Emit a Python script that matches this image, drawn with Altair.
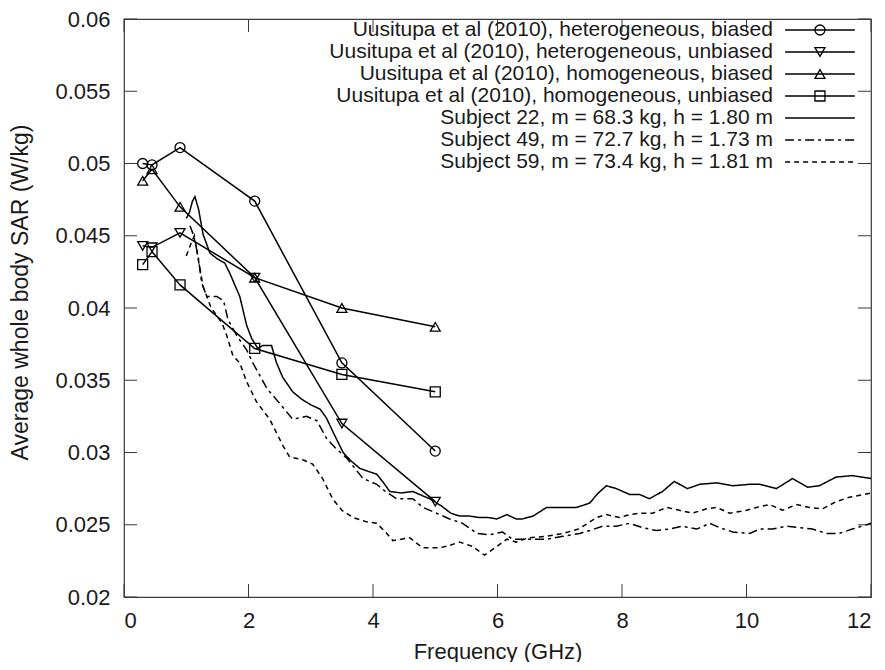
import altair as alt
import pandas as pd

FONT = "Liberation Sans"

# ---------------- data ----------------
u_names = [
    "Uusitupa et al (2010), heterogeneous, biased",
    "Uusitupa et al (2010), heterogeneous, unbiased",
    "Uusitupa et al (2010), homogeneous, biased",
    "Uusitupa et al (2010), homogeneous, unbiased",
]
s_names = [
    "Subject 22, m = 68.3 kg, h = 1.80 m",
    "Subject 49, m = 72.7 kg, h = 1.73 m",
    "Subject 59, m = 73.4 kg, h = 1.81 m",
]

freq_u = [0.3, 0.45, 0.9, 2.1, 3.5, 5.0]
het_biased = [0.0500, 0.0499, 0.0511, 0.0474, 0.0362, 0.0301]
het_unbiased = [0.0443, 0.0442, 0.0452, 0.0421, 0.0320, 0.0266]
hom_biased = [0.0488, 0.0496, 0.0470, 0.0421, 0.0400, 0.0387]
hom_unbiased = [0.0430, 0.0439, 0.0416, 0.0372, 0.0354, 0.0342]

freq_s22 = [1.0, 1.05, 1.1, 1.14, 1.2, 1.27, 1.38, 1.5, 1.62, 1.7, 1.86, 1.97, 2.05,
            2.15, 2.23, 2.37, 2.45, 2.55, 2.71, 2.85, 3.0, 3.15, 3.25, 3.36, 3.52,
            3.65, 3.79, 3.92, 4.06, 4.17, 4.27, 4.45, 4.64, 4.8, 4.91, 5.1, 5.25,
            5.39, 5.55, 5.71, 5.85, 5.99, 6.15, 6.3, 6.4, 6.57, 6.79, 7.05, 7.27,
            7.48, 7.62, 7.75, 7.91, 8.12, 8.28, 8.44, 8.65, 8.84, 9.05, 9.25, 9.52,
            9.78, 10.05, 10.21, 10.48, 10.74, 10.98, 11.17, 11.44, 11.7, 12.0]
sar_s22 = [0.0462, 0.0466, 0.0474, 0.0477, 0.0468, 0.0451, 0.0438, 0.0434, 0.0431,
           0.0424, 0.0408, 0.0388, 0.0379, 0.0372, 0.0374, 0.0374, 0.0362, 0.0352,
           0.0342, 0.0337, 0.0333, 0.0330, 0.0324, 0.0314, 0.0300, 0.0294, 0.0289,
           0.0287, 0.0285, 0.0279, 0.0273, 0.0272, 0.0273, 0.0270, 0.0268, 0.0263,
           0.0258, 0.0256, 0.0256, 0.0255, 0.0255, 0.0254, 0.0257, 0.0254, 0.0254,
           0.0256, 0.0262, 0.0262, 0.0262, 0.0265, 0.0272, 0.0277, 0.0275, 0.0271,
           0.0271, 0.0268, 0.0273, 0.0280, 0.0275, 0.0278, 0.0279, 0.0277, 0.0278,
           0.0278, 0.0275, 0.0282, 0.0276, 0.0277, 0.0283, 0.0284, 0.0282]

freq_s49 = [1.06, 1.12, 1.19, 1.25, 1.33, 1.49, 1.6, 1.67, 1.81, 1.97, 2.07, 2.3, 2.5,
            2.71, 2.93, 3.1, 3.25, 3.4, 3.58, 3.84, 4.06, 4.2, 4.38, 4.64, 4.8, 5.02,
            5.23, 5.44, 5.67, 5.87, 6.08, 6.24, 6.52, 6.79, 7.05, 7.32, 7.48, 7.69,
            7.91, 8.12, 8.33, 8.55, 8.76, 8.97, 9.2, 9.41, 9.57, 9.78, 10.05, 10.21,
            10.42, 10.64, 10.85, 11.06, 11.28, 11.49, 11.7, 12.0]
sar_s49 = [0.0457, 0.0450, 0.0436, 0.0417, 0.0408, 0.0408, 0.0405, 0.0392, 0.0381,
           0.0371, 0.0362, 0.0344, 0.0334, 0.0323, 0.0325, 0.0322, 0.0310, 0.0303,
           0.0296, 0.0282, 0.0278, 0.0273, 0.0268, 0.0268, 0.0262, 0.0258, 0.0254,
           0.0251, 0.0244, 0.0243, 0.0245, 0.0240, 0.0240, 0.0240, 0.0242, 0.0244,
           0.0246, 0.0249, 0.0249, 0.0251, 0.0248, 0.0246, 0.0247, 0.0249, 0.0247,
           0.0251, 0.0248, 0.0245, 0.0244, 0.0247, 0.0247, 0.0249, 0.0248, 0.0247,
           0.0244, 0.0244, 0.0247, 0.0251]

freq_s59 = [1.0, 1.08, 1.13, 1.2, 1.27, 1.4, 1.57, 1.65, 1.75, 1.86, 1.97, 2.13, 2.34,
            2.55, 2.66, 2.87, 3.03, 3.19, 3.35, 3.5, 3.68, 3.9, 4.06, 4.2, 4.32, 4.59,
            4.8, 5.07, 5.25, 5.39, 5.6, 5.79, 5.99, 6.15, 6.3, 6.5, 6.79, 7.05, 7.3,
            7.45, 7.59, 7.75, 7.96, 8.12, 8.28, 8.49, 8.72, 8.92, 9.13, 9.36, 9.52,
            9.73, 10.0, 10.16, 10.37, 10.58, 10.8, 11.01, 11.22, 11.44, 11.65, 11.89, 12.0]
sar_s59 = [0.0436, 0.0445, 0.0450, 0.0432, 0.0415, 0.0400, 0.0390, 0.0381, 0.0367,
           0.0362, 0.0349, 0.0335, 0.0323, 0.0305, 0.0297, 0.0295, 0.0292, 0.0282,
           0.0268, 0.0260, 0.0255, 0.0252, 0.0251, 0.0245, 0.0239, 0.0241, 0.0234,
           0.0234, 0.0236, 0.0238, 0.0235, 0.0229, 0.0235, 0.0240, 0.0238, 0.0241,
           0.0242, 0.0244, 0.0247, 0.0251, 0.0255, 0.0257, 0.0255, 0.0257, 0.0258,
           0.0258, 0.0262, 0.0260, 0.0258, 0.0261, 0.0262, 0.0258, 0.0260, 0.0262,
           0.0264, 0.0260, 0.0264, 0.0262, 0.0261, 0.0266, 0.0269, 0.0271, 0.0272]

x_ticks = [0, 2, 4, 6, 8, 10, 12]
y_ticks = [0.02, 0.025, 0.03, 0.035, 0.04, 0.045, 0.05, 0.055, 0.06]

# ---------------- layout / style ----------------
W, H = 747, 578
X_MIN, X_MAX = 0, 12
Y_MIN, Y_MAX = 0.02, 0.06
all_names = u_names + s_names
FS = 22
LEG_FS = 21
TXT = "#1a1a1a"
FRAME = "#3a3a3a"
TICK_PX = 13

# inward tick lengths expressed in data units
tick_dy = TICK_PX / H * (Y_MAX - Y_MIN)
tick_dx = TICK_PX / W * (X_MAX - X_MIN)

# legend placement (data units)
leg_text_x = 10.425
leg_line_x0, leg_line_x1 = 10.62, 11.74
leg_mark_x = 11.18
leg_y0 = Y_MAX - 11 / H * (Y_MAX - Y_MIN)
leg_dy = 22 / H * (Y_MAX - Y_MIN)

rows = []
for name, vals in zip(u_names, [het_biased, het_unbiased, hom_biased, hom_unbiased]):
    for f, v in zip(freq_u, vals):
        rows.append({"freq": f, "sar": v, "series": name})
df_u = pd.DataFrame(rows)

rows = []
for name, fr, vals in zip(s_names, [freq_s22, freq_s49, freq_s59], [sar_s22, sar_s49, sar_s59]):
    for f, v in zip(fr, vals):
        rows.append({"freq": f, "sar": v, "series": name})
df_s = pd.DataFrame(rows)

df_lt = pd.DataFrame({"label": all_names, "lx": leg_text_x,
                      "ly": [leg_y0 - leg_dy * i for i in range(len(all_names))]})
rows = []
for i, name in enumerate(all_names):
    for lx in (leg_line_x0, leg_line_x1):
        rows.append({"series": name, "lx": lx, "ly": leg_y0 - leg_dy * i})
df_ll = pd.DataFrame(rows)
df_lp = pd.DataFrame({"series": u_names, "lx": leg_mark_x,
                      "ly": [leg_y0 - leg_dy * i for i in range(len(u_names))]})

# tick rules (inside the frame, on all four sides)
rows = []
for t in x_ticks:
    rows.append({"tx": t, "tx2": t, "ty": Y_MIN, "ty2": Y_MIN + tick_dy})
    rows.append({"tx": t, "tx2": t, "ty": Y_MAX, "ty2": Y_MAX - tick_dy})
for t in y_ticks:
    rows.append({"tx": X_MIN, "tx2": X_MIN + tick_dx, "ty": t, "ty2": t})
    rows.append({"tx": X_MAX, "tx2": X_MAX - tick_dx, "ty": t, "ty2": t})
df_ticks = pd.DataFrame(rows)

xs = alt.Scale(domain=[X_MIN, X_MAX], nice=False, zero=False)
ys = alt.Scale(domain=[Y_MIN, Y_MAX], nice=False, zero=False)
dash_scale = alt.Scale(domain=all_names,
                       range=[[1, 0]] * 4 + [[1, 0], [9, 4, 3, 4], [5, 4]])
width_scale = alt.Scale(domain=all_names, range=[1.5] * 4 + [1.0, 2.8, 1.1])
shape_scale = alt.Scale(domain=u_names,
                        range=["circle", "triangle-down", "triangle-up", "square"])

x_main = alt.Axis(values=x_ticks, ticks=False, tickSize=0, domain=False, grid=False,
                  format="d", labelFont=FONT, labelFontSize=FS, labelColor=TXT,
                  labelPadding=13, labelBaseline="top",
                  title="Frequency (GHz)", titleFont=FONT, titleFontSize=FS,
                  titleFontWeight="normal", titleColor=TXT,
                  titleBaseline="alphabetic", titleY=61, titleX=W / 2)
y_main = alt.Axis(values=y_ticks, ticks=False, tickSize=0, domain=False, grid=False,
                  format=".3~f", labelFont=FONT, labelFontSize=FS, labelColor=TXT,
                  labelPadding=14,
                  title="Average whole body SAR (W/kg)", titleFont=FONT,
                  titleFontSize=23, titleFontWeight="normal", titleColor=TXT,
                  titleAngle=270, titleAlign="center", titleBaseline="middle",
                  titleX=-104, titleY=273)

u_lines = alt.Chart(df_u).mark_line(color="black", strokeWidth=1.5).encode(
    x=alt.X("freq:Q", scale=xs, axis=x_main),
    y=alt.Y("sar:Q", scale=ys, axis=y_main),
    detail="series:N",
    order="freq:Q",
)
ticks = alt.Chart(df_ticks).mark_rule(color=FRAME, strokeWidth=1).encode(
    x=alt.X("tx:Q", scale=xs, axis=None),
    y=alt.Y("ty:Q", scale=ys, axis=None),
    x2="tx2:Q",
    y2="ty2:Q",
)
u_points = alt.Chart(df_u).mark_point(filled=False, color="black", size=100,
                                      strokeWidth=1.3, opacity=1).encode(
    x=alt.X("freq:Q", scale=xs, axis=None),
    y=alt.Y("sar:Q", scale=ys, axis=None),
    shape=alt.Shape("series:N", scale=shape_scale, legend=None),
)
s_lines = alt.Chart(df_s).mark_line(color="black").encode(
    x=alt.X("freq:Q", scale=xs, axis=None),
    y=alt.Y("sar:Q", scale=ys, axis=None),
    strokeDash=alt.StrokeDash("series:N", scale=dash_scale, legend=None),
    strokeWidth=alt.StrokeWidth("series:N", scale=width_scale, legend=None),
    order="freq:Q",
)
leg_text = alt.Chart(df_lt).mark_text(align="right", baseline="middle", font=FONT,
                                      fontSize=LEG_FS, color=TXT).encode(
    x=alt.X("lx:Q", scale=xs, axis=None),
    y=alt.Y("ly:Q", scale=ys, axis=None),
    text="label:N",
)
leg_lines = alt.Chart(df_ll).mark_line(color="black").encode(
    x=alt.X("lx:Q", scale=xs, axis=None),
    y=alt.Y("ly:Q", scale=ys, axis=None),
    detail="series:N",
    strokeDash=alt.StrokeDash("series:N", scale=dash_scale, legend=None),
    strokeWidth=alt.StrokeWidth("series:N", scale=width_scale, legend=None),
)
leg_points = alt.Chart(df_lp).mark_point(filled=False, color="black", size=100,
                                         strokeWidth=1.3, opacity=1).encode(
    x=alt.X("lx:Q", scale=xs, axis=None),
    y=alt.Y("ly:Q", scale=ys, axis=None),
    shape=alt.Shape("series:N", scale=shape_scale, legend=None),
)

chart = alt.layer(
    u_lines, ticks, s_lines, u_points, leg_text, leg_lines, leg_points
).resolve_axis(
    x="independent", y="independent"
).properties(
    width=W, height=H,
    autosize=alt.AutoSizeParams(type="none"),
    padding={"left": 116, "top": 11, "right": 6, "bottom": 65},
    background="white",
).configure_view(stroke=FRAME, strokeWidth=1.2)

chart.save("out.html", embed_options={"renderer": "svg", "actions": False})
